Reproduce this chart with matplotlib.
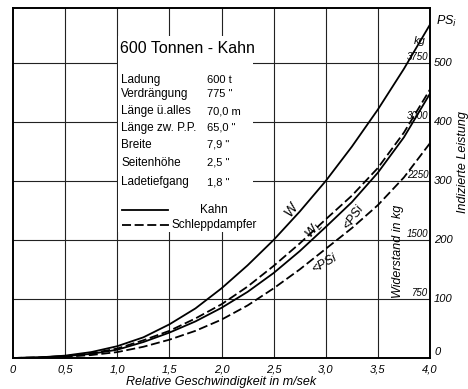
import matplotlib
matplotlib.use('Agg')
import matplotlib.pyplot as plt
from matplotlib.patches import Rectangle

plt.rcParams['font.family'] = ['Liberation Sans', 'DejaVu Sans']

# speed in m/s, curve values read in PS_i scale (0..600)
speed = [0, 0.25, 0.5, 0.75, 1.0, 1.25, 1.5, 1.75, 2.0, 2.25, 2.5, 2.75, 3.0, 3.25, 3.5, 3.75, 4.0]
w_kahn = [0, 1, 4, 10, 20, 35, 57, 84, 118, 157, 200, 248, 300, 358, 421, 490, 565]
w_schlepp = [0, 1, 3, 8, 16, 30, 46, 67, 91, 121, 156, 194, 235, 275, 322, 382, 455]
psi_kahn = [0, 1, 3, 7, 14, 27, 43, 62, 85, 112, 144, 181, 222, 264, 314, 374, 448]
psi_schlepp = [0, 0, 2, 5, 10, 19, 31, 46, 65, 89, 118, 150, 185, 220, 259, 306, 364]

x_ticks = [0, 0.5, 1.0, 1.5, 2.0, 2.5, 3.0, 3.5, 4.0]
x_ticklabels = ['0', '0,5', '1,0', '1,5', '2,0', '2,5', '3,0', '3,5', '4,0']
ps_ticks = [100, 200, 300, 400, 500]
ps_labels = ['100', '200', '300', '400', '500']
kg_labels = ['750', '1500', '2250', '3000', '3750']

table_names = ['Ladung', 'Verdrängung', 'Länge ü.alles', 'Länge zw. P.P.', 'Breite', 'Seitenhöhe', 'Ladetiefgang']
table_values = ['600 t', '775 "', '70,0 m', '65,0 "', '7,9 "', '2,5 "', '1,8 "']
table_y = [471, 447, 418, 390, 361, 331, 298]

fig = plt.figure(figsize=(4.68, 3.89), dpi=100)
ax = fig.add_axes([0.0278, 0.0797, 0.891, 0.8997])
ax.set_xlim(0, 4)
ax.set_ylim(0, 593)

# grid
for xv in x_ticks[1:-1]:
    ax.axvline(xv, color='#222222', lw=0.8, zorder=0)
for yv in ps_ticks:
    ax.axhline(yv, color='#222222', lw=0.8, zorder=0)

# white box behind the text block
ax.add_patch(Rectangle((1.01, 213), 1.29, 332, facecolor='white', edgecolor='none', zorder=1))

dash = (0, (5, 2))
ax.plot(speed, w_kahn, color='black', lw=1.3, zorder=3)
ax.plot(speed, psi_kahn, color='black', lw=1.3, zorder=3)
ax.plot(speed, w_schlepp, color='black', lw=1.3, ls=dash, zorder=3)
ax.plot(speed, psi_schlepp, color='black', lw=1.3, ls=dash, zorder=3)

for s in ax.spines.values():
    s.set_linewidth(1.4)
ax.set_xticks(x_ticks)
ax.set_xticklabels(x_ticklabels, style='italic', fontsize=8)
ax.tick_params(axis='x', length=0, pad=5)
ax.set_yticks([])
ax.set_xlabel('Relative Geschwindigkeit in m/sek', style='italic', fontsize=9, labelpad=1)

# right scale (PS_i)
for yv, lab in zip(ps_ticks, ps_labels):
    ax.text(1.01, yv, lab, transform=ax.get_yaxis_transform(), ha='left', va='center',
            style='italic', fontsize=8)
ax.text(1.01, 10, '0', transform=ax.get_yaxis_transform(), ha='left', va='center',
        style='italic', fontsize=8)
ax.text(1.015, 571, r'PS$_i$', transform=ax.get_yaxis_transform(), ha='left', va='center',
        style='italic', fontsize=9)
ax.text(1.078, 332, 'Indizierte Leistung', transform=ax.get_yaxis_transform(), ha='center',
        va='center', rotation=90, style='italic', fontsize=9)

# inner kg scale
for yv, lab in zip(ps_ticks, kg_labels):
    ax.text(3.985, yv + 2, lab, ha='right', va='bottom', style='italic', fontsize=7, zorder=4)
ax.text(3.96, 528, 'kg', ha='right', va='bottom', style='italic', fontsize=8, zorder=4)
ax.text(3.69, 180, 'Widerstand in kg', ha='center', va='center', rotation=90,
        style='italic', fontsize=9, zorder=4)

# title and table
ax.text(1.03, 525, '600 Tonnen - Kahn', ha='left', va='center', fontsize=11.5, zorder=4)
for name, val, yv in zip(table_names, table_values, table_y):
    ax.text(1.036, yv, name, ha='left', va='center', fontsize=8.5, zorder=4)
    ax.text(1.86, yv, val, ha='left', va='center', fontsize=8, zorder=4)

# legend
ax.plot([1.046, 1.487], [251, 251], color='black', lw=1.3, zorder=4)
ax.plot([1.046, 1.505], [225, 225], color='black', lw=1.3, ls=dash, zorder=4)
ax.text(1.79, 251, 'Kahn', ha='left', va='center', fontsize=8.5, zorder=4)
ax.text(1.525, 225, 'Schleppdampfer', ha='left', va='center', fontsize=8.5, zorder=4)

# curve labels
ax.text(2.67, 252, 'W', rotation=55, ha='center', va='center', style='italic', fontsize=10, zorder=4)
ax.text(2.89, 217, r'$W_L$', rotation=50, ha='center', va='center', fontsize=9, zorder=4)
ax.text(3.27, 238, '<PSi', rotation=55, ha='center', va='center', style='italic', fontsize=9, zorder=4)
ax.text(2.99, 160, '<PSi', rotation=30, ha='center', va='center', style='italic', fontsize=9, zorder=4)

fig.savefig('out.png', dpi=100)
